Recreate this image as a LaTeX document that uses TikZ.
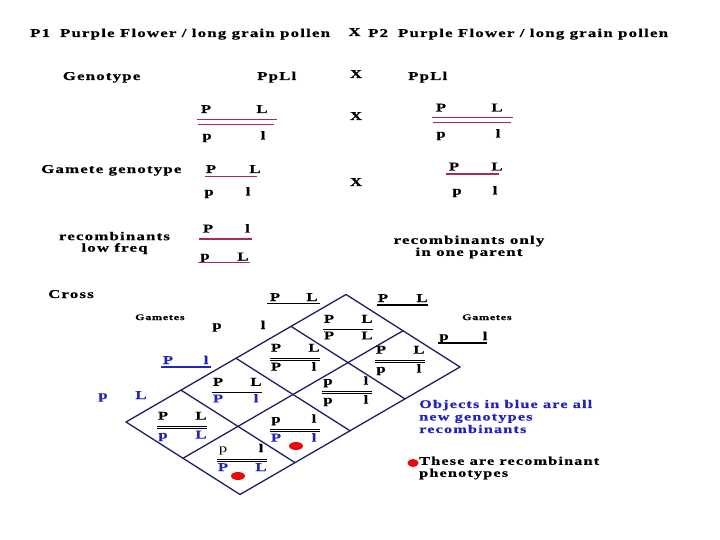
\documentclass[tikz,border=0pt]{standalone}
\usepackage{fontspec}
\setmainfont{Liberation Serif}[FakeStretch=1.4,LetterSpace=10,BoldFeatures={FakeBold=0.6}]
\usepackage{array}
\usetikzlibrary{calc,shapes.geometric}
\definecolor{chromred}{RGB}{170,40,90}
\definecolor{gridblue}{RGB}{30,30,100}
\definecolor{newblue}{RGB}{35,35,190}
\definecolor{dotred}{RGB}{230,10,10}
\newcolumntype{C}[1]{>{\centering\arraybackslash}p{#1}}
\setlength{\arrayrulewidth}{1.1pt}
\setlength{\doublerulesep}{1.2pt}
% offspring genotype: gamete from top over gamete from side
\newcommand{\offg}[5][\hline\hline]{\begin{tabular}{@{}C{12pt}@{\hspace{26pt}}C{12pt}@{}}#2&#3\\[2.5pt]#1#4&#5\end{tabular}}
\newcommand{\bl}[1]{\textcolor{newblue}{#1}}
\begin{document}
\begin{tikzpicture}[x=1pt,y=-1pt,
  every node/.style={inner sep=0pt,font=\fontsize{12}{13}\selectfont\bfseries},
  al/.style={anchor=base},
  txt/.style={anchor=base west},
  gamlbl/.style={anchor=base west,font=\fontsize{8.5}{9}\selectfont\bfseries},
  chrom/.style={chromred,line width=1.1pt},
  uline/.style={black,line width=1.1pt},
  diag/.style={gridblue,line width=1.3pt,line cap=round},
  rdot/.style={ellipse,fill=dotred,minimum width=14pt,minimum height=8pt}]
\useasboundingbox (0,0) rectangle (720,540);
% parents
\node[txt] (p1) at (30,37) {P1\hspace{10pt}Purple Flower / long grain pollen};
\node[al] (x0) at (354.5,36) {X};
\node[txt] (p2) at (368,37) {P2\hspace{10pt}Purple Flower / long grain pollen};
\node[txt] (gen) at (62.6,80) {Genotype};
\node[txt] (gen1) at (257,80) {PpLl};
\node[al] (x1) at (356,78) {X};
\node[txt] (gen2) at (408,80) {PpLl};
% chromosomes of the parents
\node[al] (a1) at (206,113) {P}; \node[al] (a2) at (262,113) {L};
\node[al] (a3) at (207,139.5) {p}; \node[al] (a4) at (263,139.5) {l};
\draw[chrom] (197,119.3) -- (277,119.3); \draw[chrom] (198,124.7) -- (274,124.7);
\node[al] (x2) at (356,120) {X};
\node[al] (b1) at (441,111.5) {P}; \node[al] (b2) at (497,111.5) {L};
\node[al] (b3) at (441,137.5) {p}; \node[al] (b4) at (498,137.5) {l};
\draw[chrom] (432,117.3) -- (513,117.3); \draw[chrom] (433,122.7) -- (511,122.7);
% gametes
\node[txt] (gg) at (41,173) {Gamete genotype};
\node[al] (c1) at (211,173) {P}; \node[al] (c2) at (255,173) {L};
\draw[chrom] (205,176.7) -- (257,176.7);
\node[al] (c3) at (209,195.5) {p}; \node[al] (c4) at (248,195.5) {l};
\node[al] (x3) at (356,186) {X};
\node[al] (d1) at (454,170.5) {P}; \node[al] (d2) at (497,170.5) {L};
\draw[chrom] (446,174) -- (499,174);
\node[al] (d3) at (457,194.5) {p}; \node[al] (d4) at (495,194.5) {l};
\node[align=center,font=\fontsize{12}{11.5}\selectfont\bfseries] (rec1) at (114.5,243) {recombinants\\low freq};
\node[al] (e1) at (208,232.5) {P}; \node[al] (e2) at (247.5,232.5) {l};
\draw[chrom] (199,239) -- (252,239);
\node[al] (e3) at (205,259.5) {p}; \node[al] (e4) at (243,260.5) {L};
\draw[chrom] (198,262.7) -- (250,262.7);
\node[align=center,font=\fontsize{12}{12}\selectfont\bfseries] (rec2) at (469,247) {recombinants only\\in one parent};
% cross
\node[txt] (cross) at (48,298) {Cross};
\node[gamlbl] (gl1) at (135,320) {Gametes};
\node[gamlbl] (gl2) at (462,320) {Gametes};
\node[al] (g1a) at (275,301) {P}; \node[al] (g1b) at (312,301) {L}; \draw[uline] (267,303.5) -- (320,303.5);
\node[al] (g2a) at (383,302) {P}; \node[al] (g2b) at (422,302) {L}; \draw[uline] (377,305) -- (428,305);
\node[al] (g3a) at (217,329) {p}; \node[al] (g3b) at (263,329) {l};
\node[al] (g4a) at (444,340) {p}; \node[al] (g4b) at (485,340) {l}; \draw[uline] (438,343) -- (487,343);
\node[al,text=newblue] (g5a) at (168,364) {P}; \node[al,text=newblue] (g5b) at (206,364) {l};
\draw[uline,newblue] (161,367) -- (211,367);
\node[al,text=newblue] (g6a) at (103,399) {p}; \node[al,text=newblue] (g6b) at (141,399) {L};
% punnett grid
\coordinate (T) at (346,294.5); \coordinate (R) at (460,367); \coordinate (Lf) at (126,422);
\coordinate (B) at ($(R)+(Lf)-(T)$);
\foreach \i in {0,...,4} \draw[diag] ($(T)!\i/4!(Lf)$) -- ($(R)!\i/4!(B)$);
\foreach \j in {0,1,2} \draw[diag] ($(T)!\j/2!(R)$) -- ($(Lf)!\j/2!(B)$);
\node (c00) at (348,328.5) {\offg[\hline]{P}{L}{P}{L}};
\node (c01) at (400,360.5) {\offg{P}{L}{p}{l}};
\node (c10) at (295,358.5) {\offg{P}{L}{P}{l}};
\node (c11) at (347,391.5) {\offg{p}{l}{p}{l}};
\node (c20) at (237,391.5) {\offg[\hline]{P}{L}{\bl{P}}{\bl{l}}};
\node (c21) at (295,429.5) {\offg{p}{l}{\bl{P}}{\bl{l}}};
\node (c30) at (182,426.5) {\offg{P}{L}{\bl{p}}{\bl{L}}};
\node (c31) at (242,459) {\offg{\mdseries p}{l}{\bl{P}}{\bl{L}}};
\node[rdot] (r1) at (296,446) {};
\node[rdot] (r2) at (238,476) {};
% legend
\node[anchor=west,align=left,text=newblue,font=\fontsize{11.6}{12.5}\selectfont\bfseries] (leg1) at (419,416.5) {Objects in blue are all\\new genotypes\\recombinants};
\node[rdot,minimum width=11pt] (r3) at (413,463) {};
\node[anchor=west,align=left,font=\fontsize{11.6}{12}\selectfont\bfseries] (leg2) at (419,468) {These are recombinant\\phenotypes};
\end{tikzpicture}
\end{document}
